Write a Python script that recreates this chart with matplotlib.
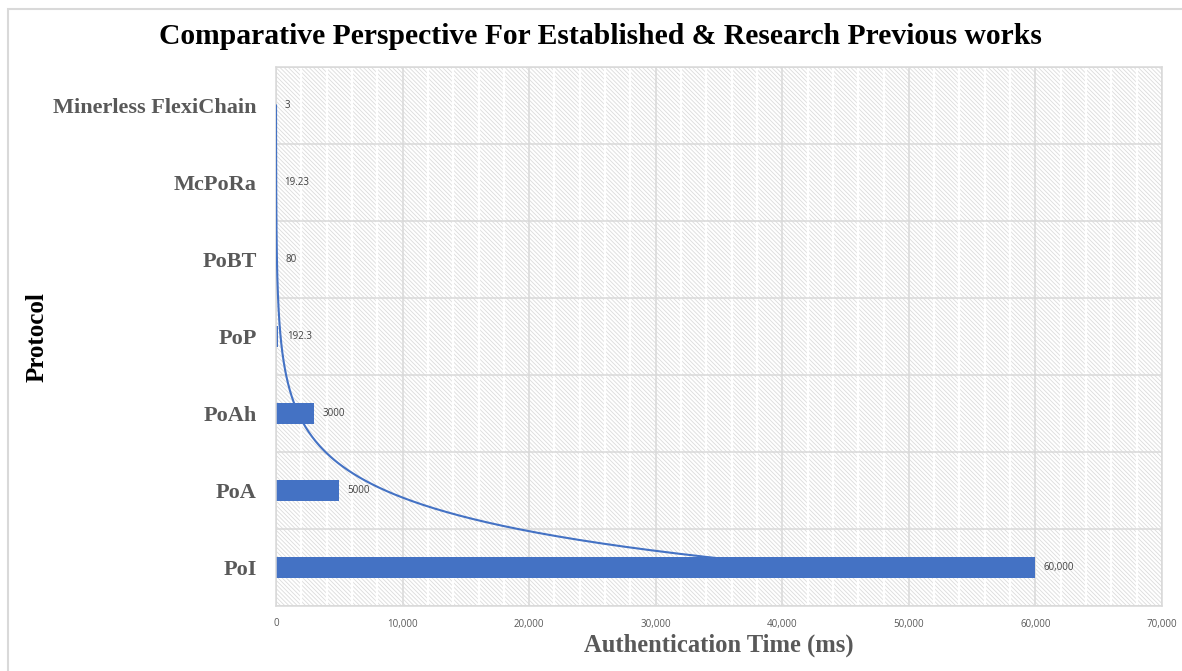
import numpy as np
import matplotlib.pyplot as plt
from matplotlib.patches import Rectangle
from matplotlib.ticker import FuncFormatter

# Protocolos (de abajo hacia arriba) y tiempo de autenticacion en ms
protocolos = ['PoI', 'PoA', 'PoAh', 'PoP', 'PoBT', 'McPoRa', 'Minerless FlexiChain']
tiempos = [60000, 5000, 3000, 192.3, 80, 19.23, 3]
ticks_x = [0, 10000, 20000, 30000, 40000, 50000, 60000, 70000]

azul = '#4472C4'
gris = '#595959'
serif = 'Liberation Serif'
sans = 'Open Sans'


def etiqueta(v):
    if v >= 10000:
        return f'{v:,.0f}'
    return f'{v:g}'


plt.rcParams['hatch.linewidth'] = 0.6

fig = plt.figure(figsize=(11.82, 6.71), dpi=100)
ax = fig.add_axes([276 / 1182, 1 - 606 / 671, 886 / 1182, 539 / 671])

# marco del grafico (solo bordes izquierdo y superior visibles)
fig.patches.append(Rectangle((7.5 / 1182, -0.1), 1.2, 1 - 8.5 / 671 + 0.1,
                             transform=fig.transFigure, fill=False,
                             edgecolor='#d9d9d9', lw=1.5, zorder=0))

# fondo rayado
ax.add_patch(Rectangle((0, 0), 1, 1, transform=ax.transAxes, facecolor='white',
                       hatch='\\\\\\\\\\\\\\\\', edgecolor='#dcdcdc', lw=0, zorder=0))

y = np.arange(len(protocolos))
ax.set_xlim(0, 70000)
ax.set_ylim(-0.5, len(protocolos) - 0.5)

# lineas de division: secundarias blancas, principales grises
for xv in np.arange(2000, 70000, 2000):
    if xv % 10000:
        ax.axvline(xv, color='white', lw=1.6, zorder=0.5)
for xv in ticks_x:
    ax.axvline(xv, color='#d9d9d9', lw=1.1, zorder=0.6)
for yv in np.arange(-0.5, len(protocolos), 1):
    ax.axhline(yv, color='#d9d9d9', lw=1.1, zorder=0.6)

ax.barh(y, tiempos, height=0.28, color=azul, zorder=2)

for yi, v in zip(y, tiempos):
    ax.annotate(etiqueta(v), (v, yi), xytext=(6, 0), textcoords='offset points',
                va='center', ha='left', fontsize=7, color='#404040', family=sans)

# linea de tendencia exponencial (x = 1..7 como en la hoja de calculo)
idx = np.arange(1, len(tiempos) + 1)
b, a = np.polyfit(idx, np.log(tiempos), 1)
t = np.linspace(1, len(tiempos), 400)
ax.plot(np.exp(a + b * t), t - 1, color=azul, lw=1.5, zorder=3)

ax.set_xticks(ticks_x)
ax.xaxis.set_major_formatter(FuncFormatter(lambda v, p: f'{v:,.0f}'))
ax.tick_params(axis='x', length=0, pad=9, labelsize=7, labelcolor=gris)
for lbl in ax.get_xticklabels():
    lbl.set_family(sans)

ax.set_yticks(y)
ax.set_yticklabels(protocolos, family=serif, fontweight='bold', fontsize=16, color=gris)
ax.tick_params(axis='y', length=0, pad=13.7)

for s in ax.spines.values():
    s.set_color('#d9d9d9')
    s.set_linewidth(1.1)

fig.text(600 / 1182, 1 - 37 / 671, 'Comparative Perspective For Established & Research Previous works',
         ha='center', va='center', family=serif, fontweight='bold', fontsize=21.3, color='black')
fig.text(37 / 1182, 1 - 337 / 671, 'Protocol', rotation=90, ha='center', va='center',
         family=serif, fontweight='bold', fontsize=18, color='black')
fig.text(719 / 1182, 1 - 645 / 671, 'Authentication Time (ms)', ha='center', va='center',
         family=serif, fontweight='bold', fontsize=17.7, color=gris)

fig.savefig('out.png', dpi=100, facecolor='white')
